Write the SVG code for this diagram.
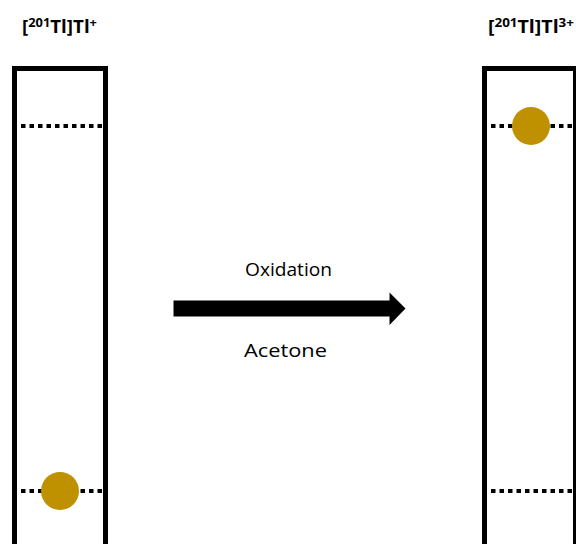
<svg xmlns="http://www.w3.org/2000/svg" width="576" height="544" viewBox="0 0 576 544">
  <style>
    .col { fill: none; stroke: #000; stroke-width: 5; }
    .level { stroke: #000; stroke-width: 4; stroke-dasharray: 4.5 4; fill: none; }
    .spot { fill: #bf9000; }
    .lbl { font-family: "Open Sans", "Liberation Sans", sans-serif; font-weight: bold; font-size: 17.5px; fill: #000; }
    .sup { font-size: 12px; }
    .cond { font-family: "Open Sans", "Liberation Sans", sans-serif; font-size: 18px; fill: #000; }
  </style>
  <rect width="576" height="544" fill="#fff"/>

  <!-- left column: Tl+ -->
  <g id="column-tl1">
    <text class="lbl" x="22" y="33" textLength="75" lengthAdjust="spacingAndGlyphs">[<tspan class="sup" dy="-6.5">201</tspan><tspan dy="6.5">Tl]Tl</tspan><tspan class="sup" dy="-6.5">+</tspan></text>
    <polyline class="col" points="14.5,560 14.5,68.5 105.5,68.5 105.5,560"/>
    <line class="level" x1="21" y1="126" x2="103" y2="126"/>
    <line class="level" x1="21" y1="491" x2="103" y2="491"/>
    <circle class="spot" cx="60" cy="491" r="19"/>
  </g>

  <!-- right column: Tl3+ -->
  <g id="column-tl3">
    <text class="lbl" x="488" y="33" textLength="86" lengthAdjust="spacingAndGlyphs">[<tspan class="sup" dy="-6.5">201</tspan><tspan dy="6.5">Tl]Tl</tspan><tspan class="sup" dy="-6.5">3+</tspan></text>
    <polyline class="col" points="484.5,560 484.5,68.5 575.5,68.5 575.5,560"/>
    <line class="level" x1="491" y1="126" x2="573" y2="126"/>
    <line class="level" x1="491" y1="491" x2="573" y2="491"/>
    <circle class="spot" cx="531" cy="126" r="19"/>
  </g>

  <!-- reaction arrow -->
  <g id="connectors">
    <polygon points="173.5,300.5 389.5,300.5 389.5,292.5 405.5,308.5 389.5,325 389.5,316.5 173.5,316.5" fill="#000"/>
    <text class="cond" x="245" y="276" textLength="87" lengthAdjust="spacingAndGlyphs">Oxidation</text>
    <text class="cond" x="244" y="357" textLength="83" lengthAdjust="spacingAndGlyphs">Acetone</text>
  </g>
</svg>
